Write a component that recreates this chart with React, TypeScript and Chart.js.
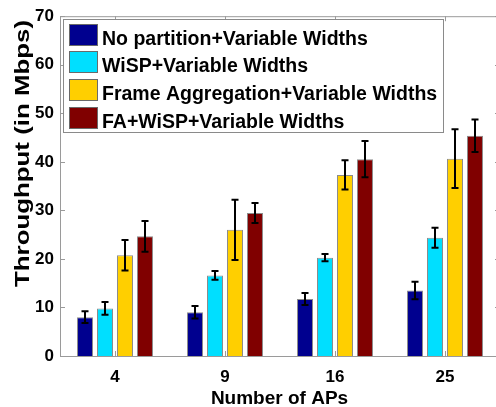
import React, { useEffect, useRef } from 'react';
import { Chart, registerables } from 'chart.js';

Chart.register(...registerables);

const categories = ['4', '9', '16', '25'];
const seriesNames = [
  'No partition+Variable Widths',
  'WiSP+Variable Widths',
  'Frame Aggregation+Variable Widths',
  'FA+WiSP+Variable Widths',
];
const noPartition = [8.0, 9.0, 11.75, 13.5];
const noPartitionErr = [1.2, 1.3, 1.25, 1.8];
const wisp = [9.8, 16.6, 20.25, 24.35];
const wispErr = [1.3, 0.9, 0.75, 2.05];
const frameAgg = [20.75, 26.0, 37.3, 40.65];
const frameAggErr = [3.15, 6.2, 3.0, 6.05];
const faWisp = [24.65, 29.45, 40.55, 45.35];
const faWispErr = [3.15, 2.05, 3.75, 3.35];
const seriesColors = ['#00008f', '#00dfff', '#ffcf00', '#800000'];
const yTicks = [0, 10, 20, 30, 40, 50, 60, 70];
const xTitle = 'Number of APs';
const yTitle = 'Throughput (in Mbps)';

const FONT = '"Liberation Sans", Arial, Helvetica, sans-serif';
const seriesValues = [noPartition, wisp, frameAgg, faWisp];
const seriesErrors = [noPartitionErr, wispErr, frameAggErr, faWispErr];

const framePlugin = {
  id: 'frame',
  afterDatasetsDraw(chart: any) {
    const { ctx, chartArea, scales } = chart;
    const { left, right, top, bottom } = chartArea;
    const x = scales.x;
    const y = scales.y;
    ctx.save();
    ctx.strokeStyle = '#9a9a9a';
    ctx.lineWidth = 1;
    ctx.beginPath();
    ctx.moveTo(left + 0.5, top + 0.5);
    ctx.lineTo(right + 0.5, top + 0.5);
    ctx.lineTo(right + 0.5, bottom + 0.5);
    ctx.lineTo(left + 0.5, bottom + 0.5);
    ctx.closePath();
    yTicks.forEach((v) => {
      const py = Math.round(y.getPixelForValue(v)) + 0.5;
      ctx.moveTo(left, py);
      ctx.lineTo(left + 5, py);
      ctx.moveTo(right - 5, py);
      ctx.lineTo(right, py);
    });
    categories.forEach((_, i) => {
      const px = Math.round(x.getPixelForValue(i)) + 0.5;
      ctx.moveTo(px, top);
      ctx.lineTo(px, top + 5);
      ctx.moveTo(px, bottom - 5);
      ctx.lineTo(px, bottom);
    });
    ctx.stroke();

    // error bars
    ctx.strokeStyle = '#000000';
    ctx.lineWidth = 2;
    seriesValues.forEach((vals, di) => {
      const meta = chart.getDatasetMeta(di);
      meta.data.forEach((el: any, j: number) => {
        const e = seriesErrors[di][j];
        const v = vals[j];
        const cx = Math.round(el.x);
        const yt = y.getPixelForValue(v + e);
        const yb = y.getPixelForValue(v - e);
        ctx.beginPath();
        ctx.moveTo(cx, yt);
        ctx.lineTo(cx, yb);
        ctx.moveTo(cx - 3.5, yt);
        ctx.lineTo(cx + 3.5, yt);
        ctx.moveTo(cx - 3.5, yb);
        ctx.lineTo(cx + 3.5, yb);
        ctx.stroke();
      });
    });
    ctx.restore();
  },
  afterDraw(chart: any) {
    const { ctx } = chart;
    ctx.save();
    // axis titles
    ctx.fillStyle = '#000000';
    ctx.font = `bold 19px ${FONT}`;
    ctx.textAlign = 'center';
    ctx.textBaseline = 'alphabetic';
    ctx.fillText(xTitle, 279.5, 404);

    ctx.save();
    ctx.font = `bold 20.5px ${FONT}`;
    const w = ctx.measureText(yTitle).width;
    ctx.translate(23, 153.5);
    ctx.rotate(-Math.PI / 2);
    ctx.scale(267 / w, 1);
    ctx.textBaseline = 'middle';
    ctx.fillText(yTitle, 0, 0);
    ctx.restore();

    // legend
    const lx = 63.5;
    const ly = 19.5;
    ctx.fillStyle = '#ffffff';
    ctx.fillRect(lx, ly, 380, 113);
    ctx.strokeStyle = '#8a8a8a';
    ctx.lineWidth = 1;
    ctx.strokeRect(lx, ly, 380, 113);
    ctx.font = `bold 19.5px ${FONT}`;
    ctx.textAlign = 'left';
    ctx.textBaseline = 'alphabetic';
    seriesNames.forEach((name, i) => {
      const top = 23.5 + i * 27.7;
      ctx.fillStyle = seriesColors[i];
      ctx.fillRect(69.5, Math.round(top) + 0.5, 28, 21);
      ctx.strokeStyle = '#6a6a6a';
      ctx.strokeRect(69.5, Math.round(top) + 0.5, 28, 21);
      ctx.fillStyle = '#000000';
      ctx.fillText(name, 102, top + 21);
    });
    ctx.restore();
  },
};

export default function App() {
  const ref = useRef<HTMLCanvasElement | null>(null);
  useEffect(() => {
    if (!ref.current) return;
    const chart = new Chart(ref.current, {
      type: 'bar',
      data: {
        labels: categories,
        datasets: seriesNames.map((name, i) => ({
          label: name,
          data: seriesValues[i],
          backgroundColor: seriesColors[i],
          borderColor: '#8c8c8c',
          borderWidth: 1,
          barPercentage: 0.8,
          categoryPercentage: 0.727,
        })),
      },
      options: {
        responsive: false,
        animation: false,
        layout: { padding: { left: 0, right: 4, top: 14, bottom: 0 } },
        plugins: {
          legend: { display: false },
          tooltip: { enabled: false },
        },
        scales: {
          x: {
            offset: true,
            grid: { display: false, drawTicks: false },
            border: { display: false },
            ticks: {
              color: '#000000',
              font: { family: FONT, size: 17, weight: 'bold' },
              padding: 11,
              autoSkip: false,
              maxRotation: 0,
            },
            afterFit: (scale: any) => {
              scale.height = 51;
            },
          },
          y: {
            min: 0,
            max: 70,
            grid: { display: false, drawTicks: false },
            border: { display: false },
            ticks: {
              stepSize: 10,
              color: '#000000',
              font: { family: FONT, size: 17, weight: 'bold' },
              padding: 6,
            },
            afterFit: (scale: any) => {
              scale.width = 60;
            },
          },
        },
      },
      plugins: [framePlugin],
    } as any);
    return () => chart.destroy();
  }, []);
  return (
    <div
      style={{
        position: 'fixed',
        left: 0,
        top: 0,
        width: 496,
        height: 407,
        overflow: 'hidden',
        background: '#ffffff',
      }}
    >
      <canvas ref={ref} width={504} height={407} style={{ display: 'block' }} />
    </div>
  );
}
